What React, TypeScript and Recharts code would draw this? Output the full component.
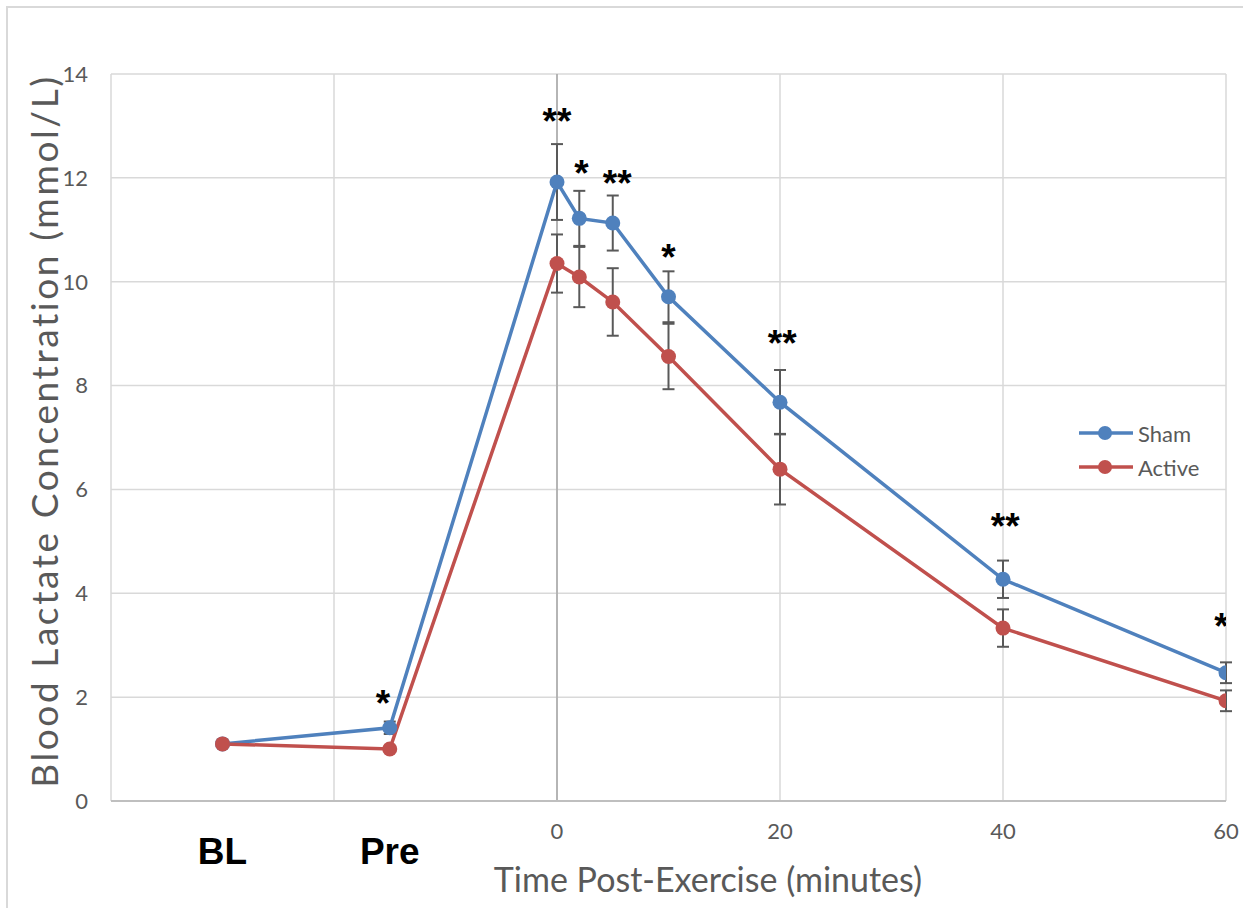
import React from "react";
import {
  ComposedChart,
  Line,
  XAxis,
  YAxis,
  CartesianGrid,
  ErrorBar,
  Scatter,
  ReferenceLine,
  Legend,
} from "recharts";

// sample times (BL and Pre sit on the negative side of the time axis)
const times = [-30, -15, 0, 2, 5, 10, 20, 40, 60];
const shamMean = [1.1, 1.41, 11.92, 11.22, 11.13, 9.71, 7.68, 4.27, 2.47];
const shamSem = [0.06, 0.12, 0.73, 0.53, 0.53, 0.49, 0.62, 0.36, 0.2];
const activeMean = [1.1, 1.0, 10.35, 10.09, 9.61, 8.56, 6.39, 3.33, 1.93];
const activeSem = [0.06, 0.04, 0.56, 0.58, 0.65, 0.63, 0.68, 0.36, 0.2];

const xTicks = [-40, -20, 0, 20, 40, 60];
const yTicks = [0, 2, 4, 6, 8, 10, 12, 14];
const phaseTicks = [-30, -15];
const phaseLabels = ["BL", "Pre"];

// significance marks
const starTimes = [-15.6, 0, 2.2, 5.4, 10, 20.2, 40.2, 59.6];
const starLevels = [2.04, 13.25, 12.25, 12.05, 10.63, 8.97, 5.45, 3.52];
const starMarks = ["*", "**", "*", "**", "*", "**", "**", "*"];

const data = times.map((t, i) => ({
  t,
  sham: shamMean[i],
  shamErr: shamSem[i],
  active: activeMean[i],
  activeErr: activeSem[i],
}));

const stars = starTimes.map((t, i) => ({ t, level: starLevels[i], mark: starMarks[i] }));

const FONT = "Lato, 'Open Sans', sans-serif";
const GREY = "#595959";
const BLUE = "#4F81BD";
const RED = "#C0504D";

const PhaseTick = ({ x, y, payload }: any) => {
  const idx = phaseTicks.indexOf(payload.value);
  return (
    <text x={x} y={y + 41} textAnchor="middle" fontSize={37} fontWeight="bold" fontFamily="'Liberation Sans', Arial, sans-serif" fill="#000">
      {phaseLabels[idx] ?? ""}
    </text>
  );
};

const StarShape = (p: any) => (
  <text x={p.cx} y={p.cy + 21} textAnchor="middle" fontSize={37} fontWeight="bold" fontFamily="'Liberation Sans', Arial, sans-serif" fill="#000">
    {p.payload.mark}
  </text>
);

const LegendBox = () => {
  const items = [
    { name: "Sham", color: BLUE },
    { name: "Active", color: RED },
  ];
  return (
    <div>
      {items.map((it) => (
        <div key={it.name} style={{ display: "flex", alignItems: "center", height: 34 }}>
          <svg width={56} height={20}>
            <line x1={0} y1={10} x2={54} y2={10} stroke={it.color} strokeWidth={3.5} />
            <circle cx={26} cy={10} r={7} fill={it.color} />
          </svg>
          <span style={{ fontFamily: FONT, fontSize: 22, color: GREY, marginLeft: 3 }}>{it.name}</span>
        </div>
      ))}
    </div>
  );
};

export default function App() {
  return (
    <div style={{ position: "absolute", left: 0, top: 0, width: 1243, height: 908, background: "#fff" }}>
      <div style={{ position: "absolute", left: 6, top: 6, width: 1300, height: 1000, borderLeft: "2px solid #D9D9D9", borderTop: "2px solid #D9D9D9" }} />
      <ComposedChart width={1243} height={908} data={data} margin={{ top: 74, right: 17, left: 0, bottom: 67 }}>
        <CartesianGrid stroke="#D9D9D9" strokeWidth={1.5} />
        <XAxis
          dataKey="t"
          type="number"
          domain={[-40, 60]}
          ticks={xTicks}
          tickFormatter={(v: number) => (v < 0 ? "" : String(v))}
          tick={{ fill: GREY, fontSize: 22, fontFamily: FONT }}
          tickLine={false}
          tickSize={0}
          tickMargin={22}
          axisLine={{ stroke: "#BFBFBF", strokeWidth: 2 }}
          height={20}
          allowDataOverflow
        />
        <XAxis
          xAxisId="phase"
          dataKey="t"
          type="number"
          domain={[-40, 60]}
          ticks={phaseTicks}
          tick={<PhaseTick />}
          tickLine={false}
          tickSize={0}
          axisLine={false}
          height={20}
          allowDataOverflow
        />
        <YAxis
          type="number"
          domain={[0, 14]}
          ticks={yTicks}
          tick={{ fill: GREY, fontSize: 22, fontFamily: FONT }}
          axisLine={false}
          tickLine={false}
          tickSize={0}
          tickMargin={23}
          width={111}
        />
        <ReferenceLine x={0} stroke="#A6A6A6" strokeWidth={1.5} />
        <Legend
          layout="vertical"
          align="center"
          verticalAlign="middle"
          content={<LegendBox />}
          wrapperStyle={{ left: 1079, top: 416, width: 160 }}
        />
        <Line
          dataKey="sham"
          name="Sham"
          stroke={BLUE}
          strokeWidth={3.5}
          dot={{ r: 7.5, fill: BLUE, stroke: BLUE, strokeWidth: 0 }}
          activeDot={false}
          isAnimationActive={false}
        >
          <ErrorBar dataKey="shamErr" width={6} stroke={GREY} strokeWidth={2} direction="y" />
        </Line>
        <Line
          dataKey="active"
          name="Active"
          stroke={RED}
          strokeWidth={3.5}
          dot={{ r: 7.5, fill: RED, stroke: RED, strokeWidth: 0 }}
          activeDot={false}
          isAnimationActive={false}
        >
          <ErrorBar dataKey="activeErr" width={6} stroke={GREY} strokeWidth={2} direction="y" />
        </Line>
        <Scatter data={stars} dataKey="level" shape={StarShape} legendType="none" isAnimationActive={false} />
        <text x={708} y={892} textAnchor="middle" fontSize={34} fontFamily={FONT} fill={GREY}>
          Time Post-Exercise (minutes)
        </text>
        <text
          x={58}
          y={431}
          textAnchor="middle"
          fontSize={37}
          letterSpacing={2.6}
          fontFamily={FONT}
          fill={GREY}
          transform="rotate(-90 58 431)"
        >
          Blood Lactate Concentration (mmol/L)
        </text>
      </ComposedChart>
    </div>
  );
}
